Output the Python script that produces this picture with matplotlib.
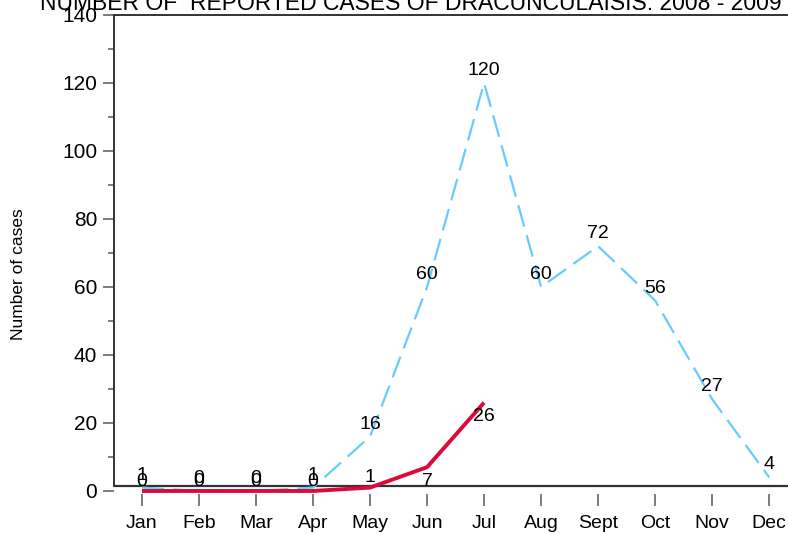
import matplotlib
matplotlib.use("Agg")
import matplotlib.pyplot as plt
import matplotlib.ticker as mtick

plt.rcParams.update({
    "font.family": ["Liberation Sans", "DejaVu Sans"],
    "axes.spines.right": False,
    "axes.spines.bottom": False,
})

months = ["Jan", "Feb", "Mar", "Apr", "May", "Jun", "Jul", "Aug", "Sept", "Oct", "Nov", "Dec"]
cases_2008 = [1, 0, 0, 1, 16, 60, 120, 60, 72, 56, 27, 4]
cases_2009 = [0, 0, 0, 0, 1, 7, 26]

BLUE = "#66CCFF"
RED = "#DC0A3C"
AXIS = "#333333"

fig = plt.figure(figsize=(7.88, 5.34), dpi=100)
ax = fig.add_axes([0.1447, 0.0742, 0.8553, 0.8978])

x08 = list(range(len(cases_2008)))
x09 = list(range(len(cases_2009)))

ax.plot(x08, cases_2008, color=BLUE, linewidth=1.6, dashes=(10, 4), zorder=3)
ax.plot(x09, cases_2009, color=RED, linewidth=2.8, zorder=4, solid_capstyle="butt")

# value labels
for x, v in zip(x08, cases_2008):
    ax.annotate(str(v), (x, v), xytext=(0, 9), textcoords="offset points",
                ha="center", va="center", fontsize=14, zorder=5, annotation_clip=False)
for x, v in zip(x09, cases_2009):
    dy = -10 if v > 5 else 7
    ax.annotate(str(v), (x, v), xytext=(0, dy), textcoords="offset points",
                ha="center", va="center", fontsize=14, zorder=5, annotation_clip=False)

ax.set_xlim(-0.49, 11.33)
ax.set_ylim(-1, 140)

# horizontal axis line sits just above the zero level
ax.axhline(1.5, color=AXIS, linewidth=1.6, zorder=2)
ax.spines["left"].set_bounds(1.5, 140)
for side in ("left", "top"):
    ax.spines[side].set_color(AXIS)
    ax.spines[side].set_linewidth(1.4)

ax.set_xticks(x08)
ax.set_xticklabels(months, fontsize=14)
ax.yaxis.set_major_locator(mtick.MultipleLocator(20))
ax.yaxis.set_minor_locator(mtick.MultipleLocator(10))
ax.tick_params(axis="y", which="major", length=8, width=1.2, color="#666666", labelsize=15, pad=4)
ax.tick_params(axis="y", which="minor", length=4.5, width=1.2, color="#666666")
ax.tick_params(axis="x", length=8.5, width=1.2, color="#666666", pad=6)

fig.text(0.023, 0.487, "Number of cases", rotation=90, ha="center", va="center", fontsize=12.5)
fig.text(0.521, 0.981, "NUMBER OF  REPORTED CASES OF DRACUNCULAISIS: 2008 - 2009",
         ha="center", va="baseline", fontsize=16.5)

fig.savefig("out.png", dpi=100)
